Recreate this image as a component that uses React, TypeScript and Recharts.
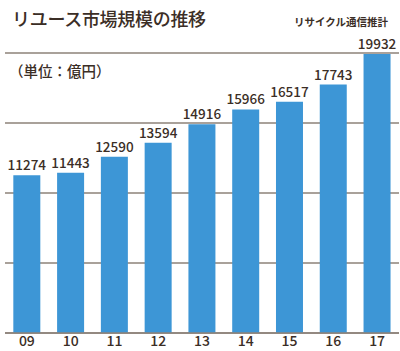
import { BarChart, Bar, XAxis, YAxis, CartesianGrid, LabelList } from 'recharts';

const years = ['09', '10', '11', '12', '13', '14', '15', '16', '17'];
const marketSize = [11274, 11443, 12590, 13594, 14916, 15966, 16517, 17743, 19932];
const yTicks = [0, 5000, 10000, 15000, 20000];

const data = years.map((year, i) => ({ year, value: marketSize[i] }));

const TEXT = '#3b2e26';
const GRID = '#8c8279';
const BAR = '#3d96d6';
const FONT = '"Noto Sans CJK JP", "Noto Sans", sans-serif';

export default function App() {
  return (
    <div style={{ position: 'relative', width: 400, height: 351, fontFamily: FONT, background: '#fff' }}>
      <style>{'body{margin:0}'}</style>
      <div style={{ position: 'absolute', left: 12, top: 5, fontSize: 18, fontWeight: 500, color: TEXT, lineHeight: '26px', letterSpacing: -0.3 }}>
        リユース市場規模の推移
      </div>
      <div style={{ position: 'absolute', right: 12, top: 14, fontSize: 10.5, fontWeight: 700, color: TEXT, lineHeight: '16px' }}>
        リサイクル通信推計
      </div>
      <div style={{ position: 'absolute', left: 9, top: 61, fontSize: 14.5, fontWeight: 500, color: TEXT, lineHeight: '20px' }}>
        （単位：億円）
      </div>
      <div style={{ position: 'absolute', left: 0, top: 0 }}>
        <BarChart width={400} height={351} data={data} margin={{ top: 53, right: 1, bottom: 0, left: 5 }} barCategoryGap="19%">
          <CartesianGrid vertical={false} stroke={GRID} strokeWidth={1.5} />
          <XAxis
            dataKey="year"
            height={18}
            axisLine={{ stroke: GRID, strokeWidth: 1.5 }}
            tickLine={false}
            tickSize={0}
            tickMargin={3}
            tick={{ fill: TEXT, fontSize: 14, fontFamily: FONT, fontWeight: 500 }}
          />
          <YAxis hide domain={[0, 20000]} ticks={yTicks} />
          <Bar dataKey="value" fill={BAR} isAnimationActive={false}>
            <LabelList dataKey="value" position="top" offset={5} fill={TEXT} fontSize={13.5} fontFamily={FONT} fontWeight={500} />
          </Bar>
        </BarChart>
      </div>
    </div>
  );
}
